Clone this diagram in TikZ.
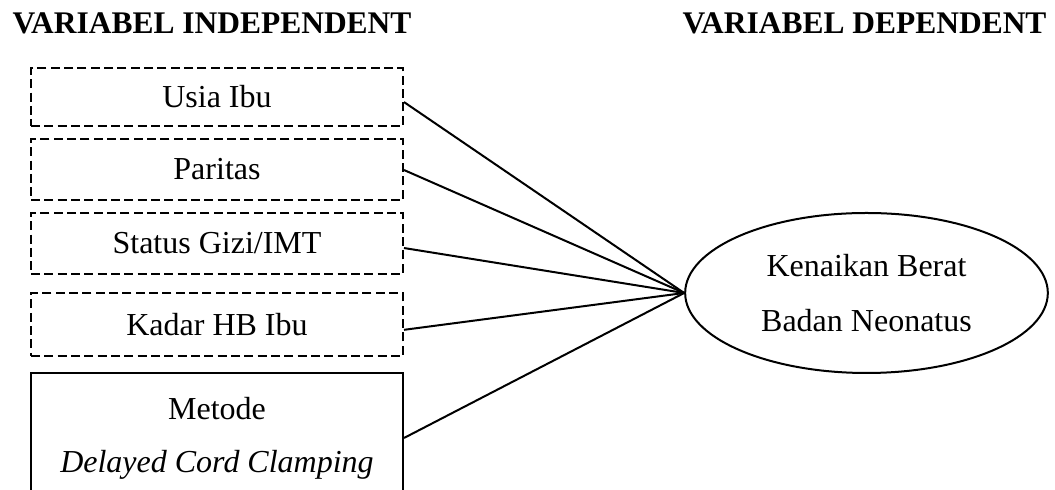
\documentclass[tikz,border=0pt]{standalone}
\usepackage{fontspec}
\setmainfont{Liberation Serif}
\usetikzlibrary{shapes.geometric}
\begin{document}
\begin{tikzpicture}[x=0.375pt,y=-0.375pt,
  vbox/.style={draw,line width=0.75pt,minimum width=139.5pt,inner sep=0pt,font=\fontsize{12}{14}\selectfont},
  dbox/.style={vbox,dash pattern=on 3.4pt off 1.6pt},
  conn/.style={line width=0.75pt},
  title/.style={anchor=base west,inner sep=0pt,font=\fontsize{11.8}{14}\selectfont\bfseries}]
\useasboundingbox (0,0) rectangle (1055,490);
\clip (0,0) rectangle (1055,490);
\node[title] (t1) at (12,34) {VARIABEL INDEPENDENT};
\node[title] (t2) at (682,34) {VARIABEL DEPENDENT};
\node[dbox,minimum height=21.75pt] (b1) at (217,97) {Usia Ibu};
\node[dbox,minimum height=22.9pt] (b2) at (217,169.5) {Paritas};
\node[dbox,minimum height=22.9pt] (b3) at (217,243.5) {Status Gizi/IMT};
\node[dbox,minimum height=23.6pt] (b4) at (217,324.5) {Kadar HB Ibu};
\node[vbox,minimum height=48.75pt,align=center,font=\fontsize{12}{19.9}\selectfont] (b5) at (217,438) {Metode\\\textit{Delayed Cord Clamping}};
\node[draw,ellipse,line width=0.75pt,minimum width=136pt,minimum height=60pt,inner sep=0pt,align=center,font=\fontsize{12}{20.6}\selectfont] (kb) at (866.5,293) {Kenaikan Berat\\Badan Neonatus};
\draw[conn] ([yshift=-1.9pt]b1.east) -- (kb.west);
\draw[conn] ([yshift=-0.2pt]b2.east) -- (kb.west);
\draw[conn] ([yshift=-1.7pt]b3.east) -- (kb.west);
\draw[conn] ([yshift=-2pt]b4.east) -- (kb.west);
\draw[conn] (b5.east) -- (kb.west);
\end{tikzpicture}
\end{document}
